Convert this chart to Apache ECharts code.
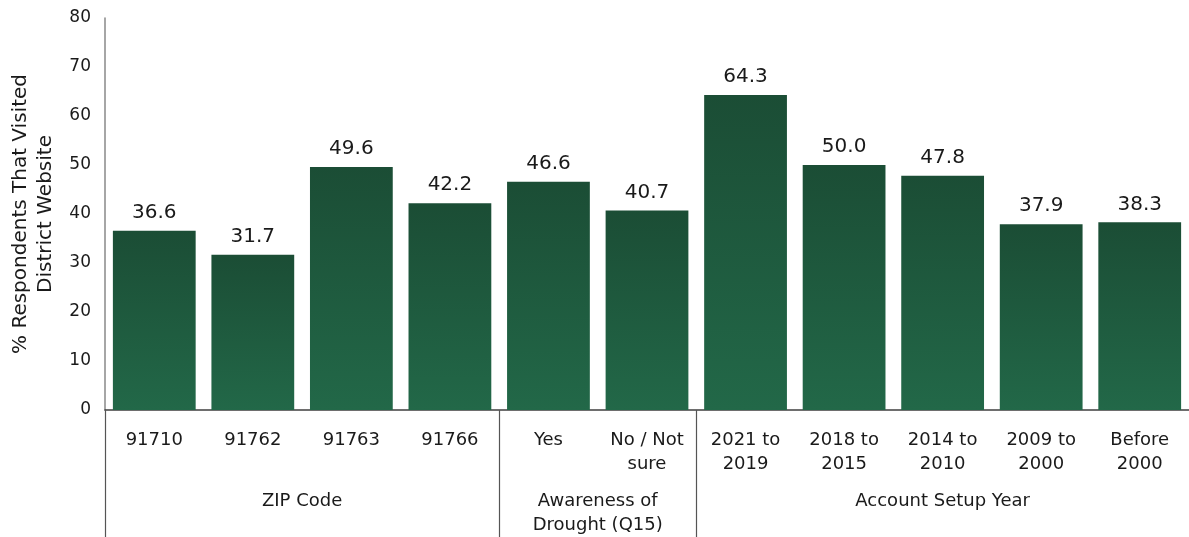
<!DOCTYPE html>
<html>
<head>
<meta charset="utf-8">
<script src="https://cdn.jsdelivr.net/npm/echarts@6/dist/echarts.min.js"></script>
<style>
  html, body { margin: 0; padding: 0; background: #ffffff; }
  #chart { width: 1189px; height: 537px; }
</style>
</head>
<body>
<div id="chart"></div>
<script>
// Share of respondents that visited the district website, by segment
const categories = [
  '91710', '91762', '91763', '91766',
  'Yes', 'No / Not\nsure',
  '2021 to\n2019', '2018 to\n2015', '2014 to\n2010', '2009 to\n2000', 'Before\n2000'
];
const values = [36.6, 31.7, 49.6, 42.2, 46.6, 40.7, 64.3, 50.0, 47.8, 37.9, 38.3];

// Segment groups: label and number of categories in each
const groupNames = ['ZIP Code', 'Awareness of\nDrought (Q15)', 'Account Setup Year'];
const groupSizes = [4, 2, 5];

const yTicks = [0, 10, 20, 30, 40, 50, 60, 70, 80];

// Group boundaries and centres on a 0..N scale that spans the category band
const boundaries = [0];
const centres = [];
groupSizes.forEach(function (n) {
  const start = boundaries[boundaries.length - 1];
  centres.push(start + n / 2);
  boundaries.push(start + n);
});
const dividerValues = boundaries.slice(0, boundaries.length - 1);

const FONT = 'DejaVu Sans';
const chart = echarts.init(document.getElementById('chart'), null, { renderer: 'canvas' });

chart.setOption({
  animation: false,
  textStyle: { fontFamily: FONT },
  grid: { left: 105, right: -1, top: 18, bottom: 127, containLabel: false },
  xAxis: [
    {
      type: 'category',
      data: categories,
      position: 'bottom',
      axisLine: { show: true, lineStyle: { color: '#3f3f3f', width: 1.5 } },
      axisTick: { show: false },
      axisLabel: {
        interval: 0,
        margin: 18,
        color: '#1a1a1a',
        fontFamily: FONT,
        fontSize: 18,
        lineHeight: 24
      }
    },
    {
      type: 'value',
      min: 0,
      max: categories.length,
      position: 'bottom',
      offset: 0,
      axisLine: { show: false },
      splitLine: { show: false },
      axisTick: {
        show: true,
        customValues: dividerValues,
        length: 127,
        lineStyle: { color: '#555555', width: 1.2 }
      },
      axisLabel: {
        show: true,
        customValues: centres,
        margin: 79,
        color: '#1a1a1a',
        fontFamily: FONT,
        fontSize: 18,
        lineHeight: 24,
        formatter: function (v) {
          const i = centres.indexOf(v);
          return i >= 0 ? groupNames[i] : '';
        }
      }
    }
  ],
  yAxis: {
    type: 'value',
    min: 0,
    max: 80,
    interval: 10,
    name: '% Respondents That Visited\nDistrict Website',
    nameLocation: 'middle',
    nameGap: 44,
    nameTextStyle: { color: '#1a1a1a', fontFamily: FONT, fontSize: 20, lineHeight: 25 },
    axisLine: { show: true, lineStyle: { color: '#888888', width: 1.5 } },
    axisTick: { show: false },
    splitLine: { show: false },
    axisLabel: {
      color: '#1a1a1a',
      fontFamily: FONT,
      fontSize: 17,
      margin: 14,
      customValues: yTicks
    }
  },
  series: [
    {
      type: 'bar',
      data: values,
      barCategoryGap: '16%',
      itemStyle: {
        color: new echarts.graphic.LinearGradient(0, 0, 0, 1, [
          { offset: 0, color: '#1b4d35' },
          { offset: 1, color: '#226848' }
        ])
      },
      label: {
        show: true,
        position: 'top',
        distance: 8,
        color: '#1a1a1a',
        fontFamily: FONT,
        fontSize: 20,
        formatter: function (p) { return p.value.toFixed(1); }
      }
    }
  ]
});
</script>
</body>
</html>
